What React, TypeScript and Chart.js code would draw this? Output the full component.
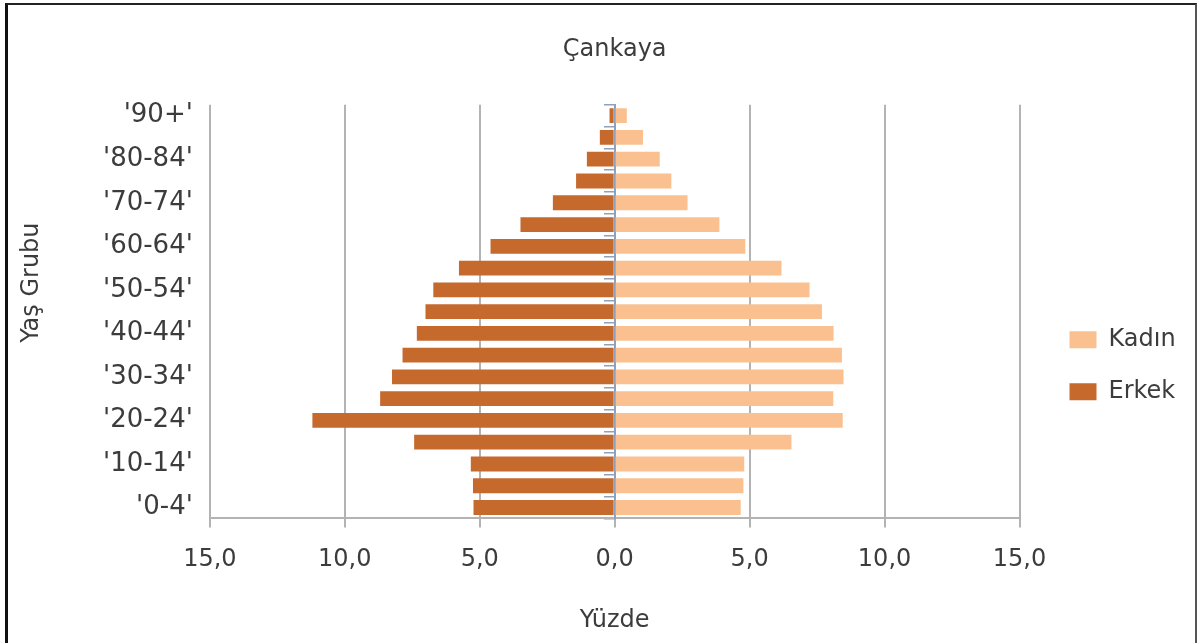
import { useEffect, useRef } from 'react';
import { Chart, registerables } from 'chart.js';

Chart.register(...registerables);

// Age groups, top to bottom
const ageGroups = [
  "'90+'", "'85-89'", "'80-84'", "'75-79'", "'70-74'", "'65-69'", "'60-64'",
  "'55-59'", "'50-54'", "'45-49'", "'40-44'", "'35-39'", "'30-34'", "'25-29'",
  "'20-24'", "'15-19'", "'10-14'", "'5-9'", "'0-4'",
];

// Percent shares, same order as ageGroups
const kadinShares = [
  0.45, 1.05, 1.67, 2.1, 2.7, 3.88, 4.84, 6.18, 7.22, 7.68, 8.11, 8.42, 8.48,
  8.1, 8.45, 6.55, 4.8, 4.77, 4.67,
];
const erkekShares = [
  0.19, 0.55, 1.03, 1.43, 2.29, 3.49, 4.6, 5.77, 6.72, 7.01, 7.33, 7.86, 8.25,
  8.69, 11.2, 7.43, 5.33, 5.25, 5.23,
];

const seriesNames = ['Kadın', 'Erkek'];
const chartTitle = 'Çankaya';
const xAxisTitle = 'Yüzde';
const yAxisTitle = 'Yaş Grubu';
const xMin = -15;
const xMax = 15;
const xStep = 5;

const FONT = "'DejaVu Sans', 'Liberation Sans', sans-serif";
const TEXT = '#3c3c3c';
const GRID = '#b3b3b3';
const ZERO_AXIS = '#8fa1ba';
const KADIN_COLOR = '#fac090';
const ERKEK_COLOR = '#c5692c';

const yTitlePlugin = {
  id: 'yTitlePlugin',
  afterDraw(chart: any) {
    const { ctx, chartArea } = chart;
    ctx.save();
    ctx.font = `24px ${FONT}`;
    ctx.fillStyle = TEXT;
    ctx.textAlign = 'center';
    ctx.textBaseline = 'middle';
    ctx.translate(32, (chartArea.top + chartArea.bottom) / 2 - 29);
    ctx.rotate(-Math.PI / 2);
    ctx.fillText(yAxisTitle, 0, 0);
    ctx.restore();
  },
};

export default function App() {
  const canvasRef = useRef<HTMLCanvasElement | null>(null);

  useEffect(() => {
    document.body.style.margin = '0';
    const canvas = canvasRef.current;
    if (!canvas) return;
    Chart.defaults.font.family = FONT;
    Chart.defaults.color = TEXT;

    const chart = new Chart(canvas, {
      type: 'bar',
      data: {
        labels: ageGroups,
        datasets: [
          {
            label: seriesNames[0],
            data: kadinShares,
            backgroundColor: KADIN_COLOR,
            borderWidth: 0,
            barPercentage: 0.68,
            categoryPercentage: 1.0,
          },
          {
            label: seriesNames[1],
            data: erkekShares.map((v) => -v),
            backgroundColor: ERKEK_COLOR,
            borderWidth: 0,
            barPercentage: 0.68,
            categoryPercentage: 1.0,
          },
        ],
      },
      options: {
        indexAxis: 'y',
        responsive: false,
        animation: false,
        devicePixelRatio: 1,
        layout: { padding: { left: 86, right: 19, top: 0, bottom: 0 } },
        plugins: {
          title: {
            display: true,
            text: chartTitle,
            fullSize: false,
            color: TEXT,
            font: { size: 24, weight: 'normal' },
            padding: { top: 35, bottom: 41 },
          },
          legend: {
            position: 'right',
            title: { display: true, text: '', font: { size: 12 }, padding: { top: 74, bottom: 0 } },
            labels: {
              boxWidth: 27,
              boxHeight: 17,
              padding: 28,
              color: TEXT,
              font: { size: 24 },
            },
          },
          tooltip: { enabled: false },
        },
        scales: {
          x: {
            stacked: true,
            min: xMin,
            max: xMax,
            ticks: {
              stepSize: xStep,
              color: TEXT,
              font: { size: 24 },
              padding: 18,
              callback: (v: any) => Math.abs(Number(v)).toFixed(1).replace('.', ','),
            },
            grid: {
              color: (c: any) => (c.tick && c.tick.value === 0 ? 'rgba(0,0,0,0)' : GRID),
              tickColor: GRID,
              lineWidth: 2,
              tickLength: 9,
              drawTicks: true,
            },
            border: { display: true, color: GRID, width: 2 },
            title: {
              display: true,
              text: xAxisTitle,
              color: TEXT,
              font: { size: 24 },
              padding: { top: 14, bottom: 8 },
            },
          },
          y: {
            stacked: true,
            grid: { display: false, drawTicks: false },
            border: { display: false },
            ticks: {
              autoSkip: false,
              color: TEXT,
              font: { size: 26 },
              padding: 17,
              callback: function (this: any, v: any, i: number) {
                return i % 2 === 0 ? this.getLabelForValue(v) : '';
              },
            },
          },
          yZero: {
            type: 'category',
            position: { x: 0 },
            offset: true,
            grid: {
              display: true,
              drawOnChartArea: false,
              drawTicks: true,
              tickLength: 10,
              offset: true,
              color: ZERO_AXIS,
              lineWidth: 1.5,
            },
            border: { display: true, color: ZERO_AXIS, width: 2 },
            ticks: { display: false },
          },
          ySpacer: {
            type: 'category',
            position: 'right',
            grid: { display: false, drawTicks: false },
            border: { display: false },
            ticks: { display: false },
            afterFit: (s: any) => {
              s.width = 22;
            },
          },
        },
      } as any,
      plugins: [yTitlePlugin],
    });

    return () => chart.destroy();
  }, []);

  return (
    <div style={{ position: 'relative', width: 1197, height: 643, background: '#fff' }}>
      <canvas ref={canvasRef} width={1197} height={643} style={{ display: 'block' }} />
      <div
        style={{
          position: 'absolute',
          left: 5,
          top: 3,
          right: 0,
          bottom: 0,
          borderLeft: '3px solid #111',
          borderTop: '2px solid #222',
          borderRight: '2px solid #555',
          pointerEvents: 'none',
        }}
      />
    </div>
  );
}
